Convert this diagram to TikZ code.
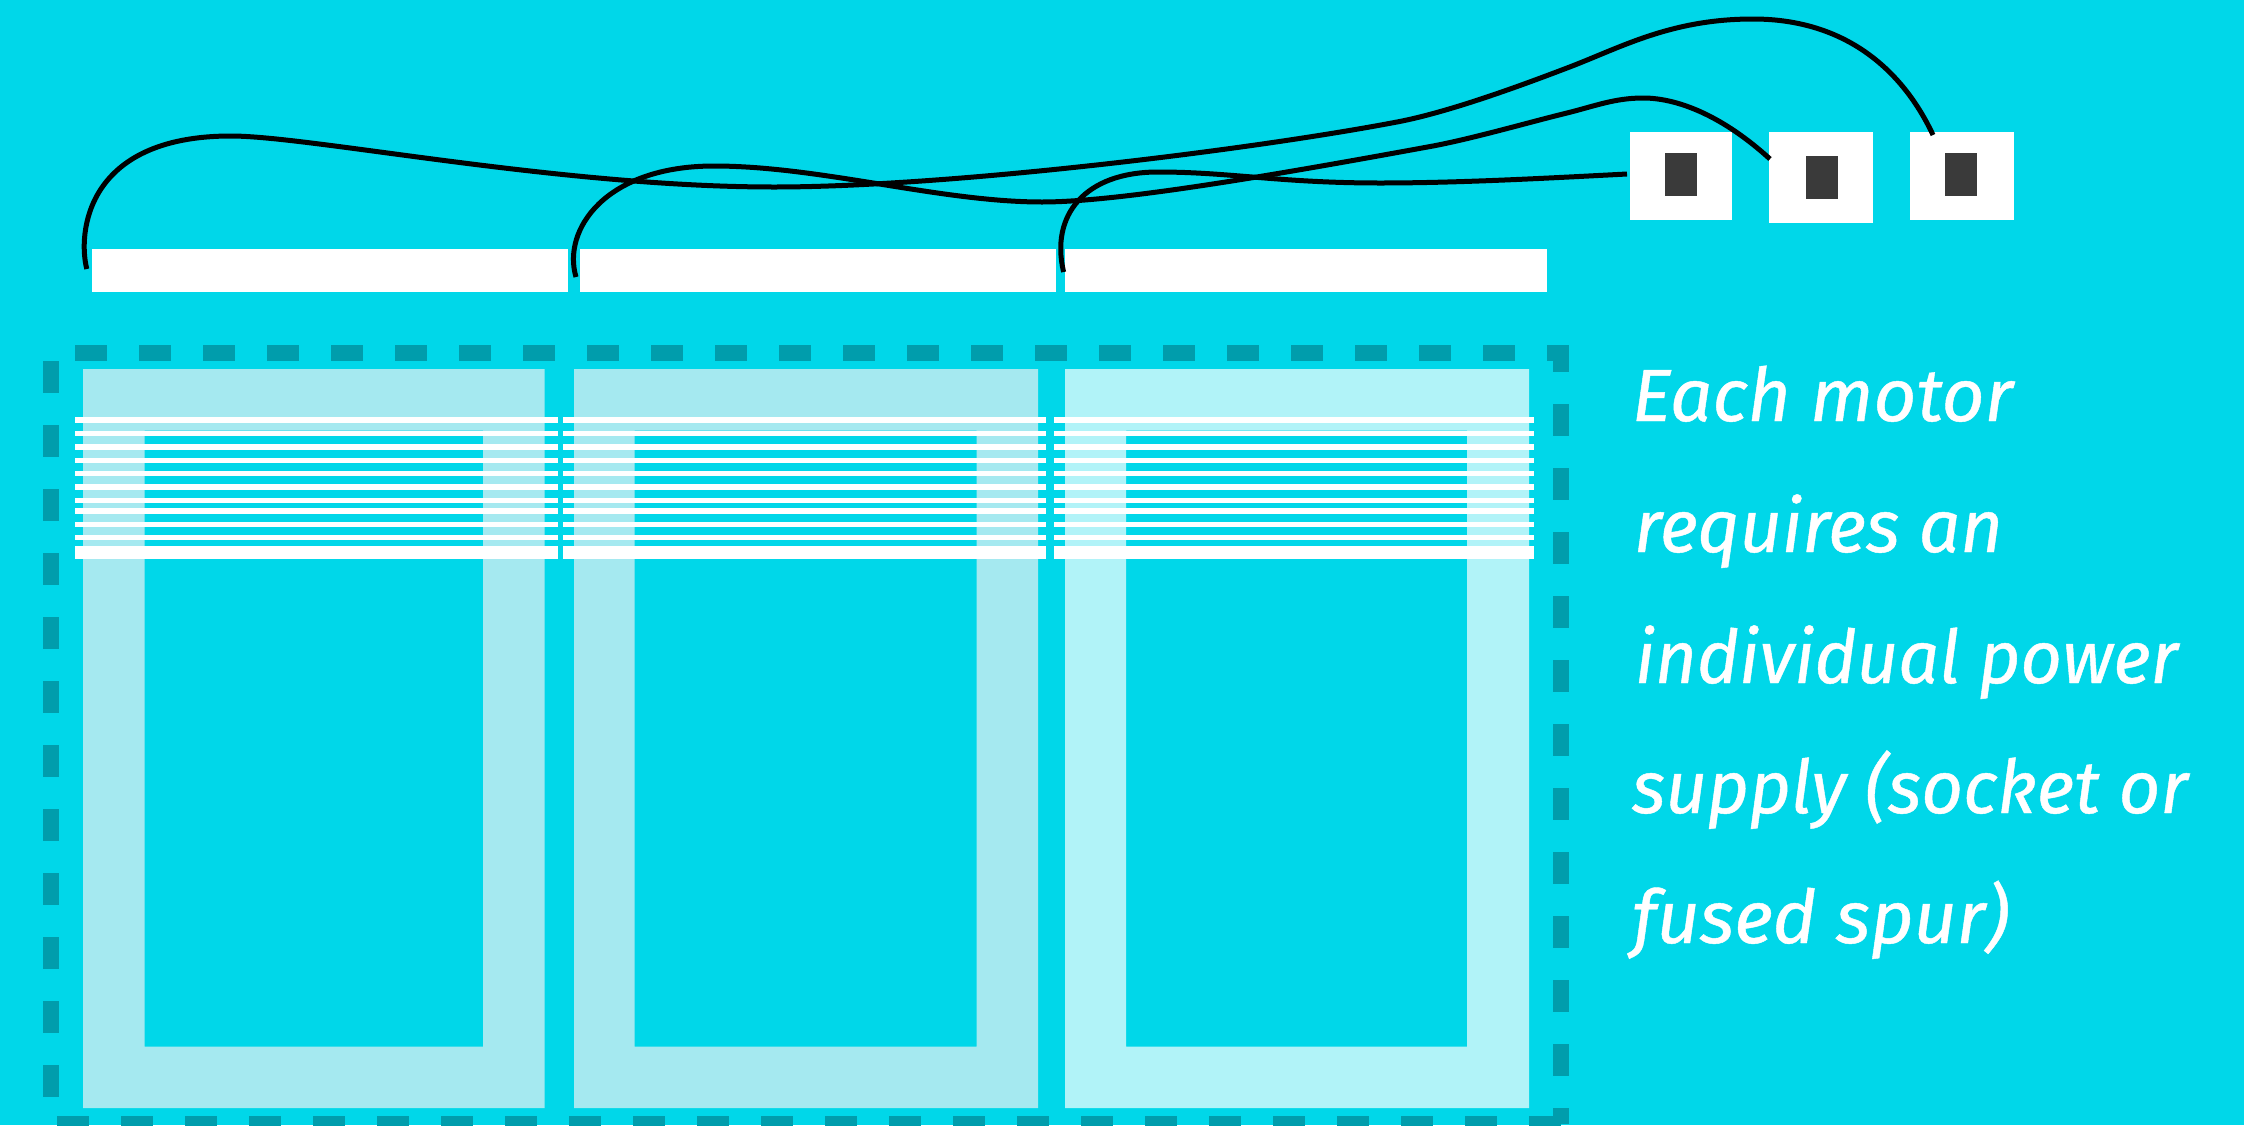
\documentclass[tikz,border=0pt]{standalone}
\usepackage{graphicx}
\usepackage{fontspec}
\newfontfamily\handfont[FakeBold=0.6]{Fira Sans}
\definecolor{bgcol}{HTML}{00D7E9}
\definecolor{dashcol}{HTML}{009DAC}
\definecolor{panelA}{HTML}{A5E9F0}
\definecolor{panelB}{HTML}{B1F3F8}
\definecolor{darkcol}{HTML}{3A3A3A}
\newcommand{\handline}[2]{\resizebox{#1pt}{\height}{\fontsize{74}{74}\handfont\itshape #2}}
\tikzset{
  x=1pt,y=-1pt,
  borderline/.style={draw=dashcol,line width=16pt,dash pattern=on 32pt off 32pt},
  wire/.style={draw=black,line width=5pt},
  whitebox/.style={fill=white,inner sep=0pt,outer sep=0pt,anchor=north west},
  darkbox/.style={fill=darkcol,inner sep=0pt,outer sep=0pt,minimum width=32pt,minimum height=43pt},
  handtext/.style={text=white,inner sep=0pt,outer sep=0pt,anchor=base west},
}
\begin{document}
\begin{tikzpicture}
\useasboundingbox (0,0) rectangle (2244,1125);
\fill[bgcol] (0,0) rectangle (2244,1125);
% dashed border
\draw[borderline] (75,353) -- (1569,353);
\draw[borderline,dash phase=5pt] (1561,345) -- (1561,1124);
\draw[borderline] (57,1124) -- (1561,1124);
\draw[borderline] (51,361) -- (51,1097);
% panels
\fill[panelA,even odd rule] (83,369) rectangle (544.5,1108) (144.5,430.5) rectangle (483,1046.5);
\fill[panelA,even odd rule] (574,369) rectangle (1038,1108) (634.5,430.5) rectangle (976.5,1046.5);
\fill[panelB,even odd rule] (1065,369) rectangle (1529,1108) (1126,430.5) rectangle (1467,1046.5);
% stripes
\foreach \xa/\xb in {75/558,563/1046,1054/1534}{
  \foreach \ya/\yb in {417/422.5,431/436,444/449.5,457.5/462.5,471/476,484/489.5,497.5/502.5,508/513.5,521.5/526.5,535/540,545.5/558.5}{
    \fill[white] (\xa,\ya) rectangle (\xb,\yb);
  }
}
% bars
\node[whitebox,minimum width=476.5pt,minimum height=43pt] (barA) at (91.5,249) {};
\node[whitebox,minimum width=476pt,minimum height=43pt] (barB) at (580,249) {};
\node[whitebox,minimum width=482pt,minimum height=43pt] (barC) at (1065,249) {};
% sockets
\node[whitebox,minimum width=102pt,minimum height=88pt] (sockA) at (1630,132) {};
\node[whitebox,minimum width=104pt,minimum height=91pt] (sockB) at (1769,132) {};
\node[whitebox,minimum width=104pt,minimum height=88pt] (sockC) at (1910,132) {};
\node[darkbox] (coreA) at (1681,174.5) {};
\node[darkbox] (coreB) at (1822,177.5) {};
\node[darkbox] (coreC) at (1961,174.5) {};
% wire ends
\coordinate (wAs) at (86.8,269);
\coordinate (wAe) at (1933,135);
\coordinate (wBs) at (576,277);
\coordinate (wBe) at (1770,159);
\coordinate (wCs) at (1063.6,272);
\coordinate (wCe) at (1627,174);
% wires
\draw[wire] (wAs) .. controls (78,235) and (84,136) .. (231,136)
  .. controls (310,136) and (560,187) .. (774,187)
  .. controls (950,187) and (1250,150) .. (1397,122)
  .. controls (1450,112) and (1525,84) .. (1567,68)
  .. controls (1620,48) and (1670,19) .. (1753,19)
  .. controls (1850,19) and (1905,75) .. (wAe);
\draw[wire] (wBs) .. controls (562,230) and (605,166) .. (714,166)
  .. controls (820,166) and (940,202) .. (1042,202)
  .. controls (1120,202) and (1280,174) .. (1433,146)
  .. controls (1475,138) and (1530,122) .. (1567,113)
  .. controls (1595,106) and (1615,98) .. (1643,98)
  .. controls (1680,98) and (1725,118) .. (wBe);
\draw[wire] (wCs) .. controls (1050,215) and (1085,172) .. (1158,172)
  .. controls (1230,172) and (1280,183) .. (1380,183)
  .. controls (1460,183) and (1550,178) .. (wCe);
% text
\node[handtext] (lineA) at (1632,421) {\handline{381}{Each motor}};
\node[handtext] (lineB) at (1634,552) {\handline{369}{requires an}};
\node[handtext] (lineC) at (1635,683) {\handline{543}{individual power}};
\node[handtext] (lineD) at (1632,813) {\handline{556}{supply (socket or}};
\node[handtext] (lineE) at (1632,943) {\handline{377}{fused spur)}};
\end{tikzpicture}
\end{document}
